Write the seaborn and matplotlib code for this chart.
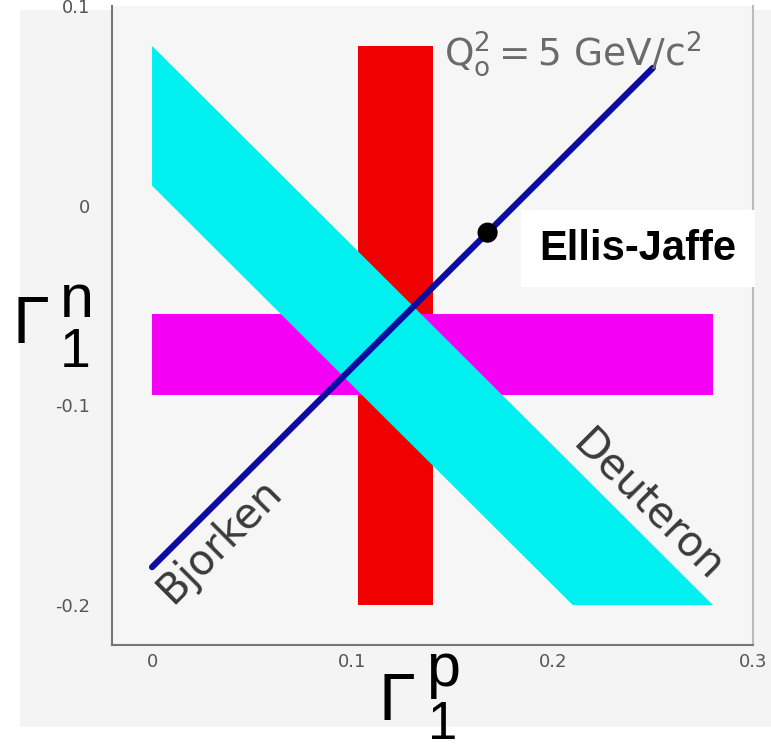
import numpy as np
import pandas as pd
import matplotlib
matplotlib.use("Agg")
import matplotlib.pyplot as plt
from matplotlib.patches import Rectangle
import seaborn as sns

# --- Data ---
# deuteron band: Gamma_p + Gamma_n between 0.01 and 0.08
deut_x = [0.0, 0.0, 0.21, 0.28]
deut_y = [0.08, 0.01, -0.20, -0.20]
# proton band (vertical)
prot_x = [0.103, 0.140]
prot_y = [-0.20, 0.08]
# neutron band (horizontal)
neut_x = [0.0, 0.28]
neut_y = [-0.095, -0.054]
# Bjorken sum rule line
bjorken_x = [0.0, 0.25]
bjorken_y = [-0.181, 0.069]
# Ellis-Jaffe prediction
ej_x = [0.1675]
ej_y = [-0.0135]

xticks = [0, 0.1, 0.2, 0.3]
xtick_labels = ['0', '0.1', '0.2', '0.3']
yticks = [-0.2, -0.1, 0, 0.1]
ytick_labels = ['-0.2', '-0.1', '0', '0.1']

# --- Style ---
sns.set_theme(style="white")
plt.rcParams['font.family'] = ['DejaVu Sans']
plt.rcParams['axes.unicode_minus'] = False

W, H = 771, 750
fig = plt.figure(figsize=(W / 100, H / 100), dpi=100, facecolor='white')

# light grey panel behind everything
fig.patches.append(Rectangle((20 / W, 1 - 727 / H), 1 - 20 / W, (727 - 10) / H,
                             transform=fig.transFigure, facecolor='#f4f4f4',
                             edgecolor='none', zorder=-10))

ax = fig.add_axes([112 / W, 1 - 645 / H, 641 / W, 639 / H])
ax.set_facecolor('#f6f6f6')

# bands
ax.fill_between(prot_x, prot_y[0], prot_y[1], color='#f00000', lw=0, zorder=1)
ax.fill_between(neut_x, neut_y[0], neut_y[1], color='#f400f4', lw=0, zorder=2)
ax.fill(deut_x, deut_y, color='#00f0f0', lw=0, zorder=3)

# Bjorken line and Ellis-Jaffe point
sns.lineplot(x=bjorken_x, y=bjorken_y, color='#0c0ca0', linewidth=4.5, ax=ax, zorder=4)
sns.scatterplot(x=ej_x, y=ej_y, s=210, color='black', edgecolor='none', ax=ax, zorder=5)

ax.set_xlim(-0.02, 0.3)
ax.set_ylim(-0.22, 0.1)

# annotations
ax.text(0.1455, 0.0705, r'$\mathrm{Q^2_o = 5\ GeV/c^2}$', fontsize=27,
        color='#6a6a6a', ha='left', va='baseline', zorder=6)
ax.text(0.2425, -0.0215, 'Ellis-Jaffe', fontsize=30, fontweight='bold',
        family='Liberation Sans', color='black', ha='center', va='center',
        bbox=dict(facecolor='white', edgecolor='none', boxstyle='square,pad=0.45'),
        zorder=6)
ax.text(0.0335, -0.1675, 'Bjorken', fontsize=30, color='#3a3a3a', rotation=45,
        rotation_mode='anchor', ha='center', va='center', zorder=6)
ax.text(0.248, -0.1505, 'Deuteron', fontsize=30, color='#3a3a3a', rotation=-45,
        rotation_mode='anchor', ha='center', va='center', zorder=6)

# axes styling
ax.set_xticks(xticks, xtick_labels)
ax.set_yticks(yticks, ytick_labels)
ax.tick_params(direction='in', length=10, width=1, color='#888888',
               labelcolor='#555555', labelsize=13)
ax.tick_params(axis='x', pad=6)
ax.tick_params(axis='y', pad=16)
for side in ['left', 'bottom']:
    ax.spines[side].set_color('#777777')
    ax.spines[side].set_linewidth(1.5)
ax.spines['right'].set_color('#bbbbbb')
ax.spines['right'].set_linewidth(1.5)
ax.spines['top'].set_visible(False)
ax.grid(False)

# axis labels: Gamma with stacked super/subscripts
lab = dict(color='black', family='Liberation Sans', ha='left', va='baseline')
fig.text(12 / W, 1 - 343 / H, 'Γ', fontsize=48, **lab)
fig.text(60 / W, 1 - 317 / H, 'n', fontsize=44, **lab)
fig.text(60 / W, 1 - 367 / H, '1', fontsize=40, **lab)

fig.text(378 / W, 1 - 720 / H, 'Γ', fontsize=48, **lab)
fig.text(426 / W, 1 - 686 / H, 'p', fontsize=44, **lab)
fig.text(428 / W, 1 - 739 / H, '1', fontsize=38, **lab)

fig.savefig('out.png', dpi=100, facecolor=fig.get_facecolor())
plt.close(fig)
